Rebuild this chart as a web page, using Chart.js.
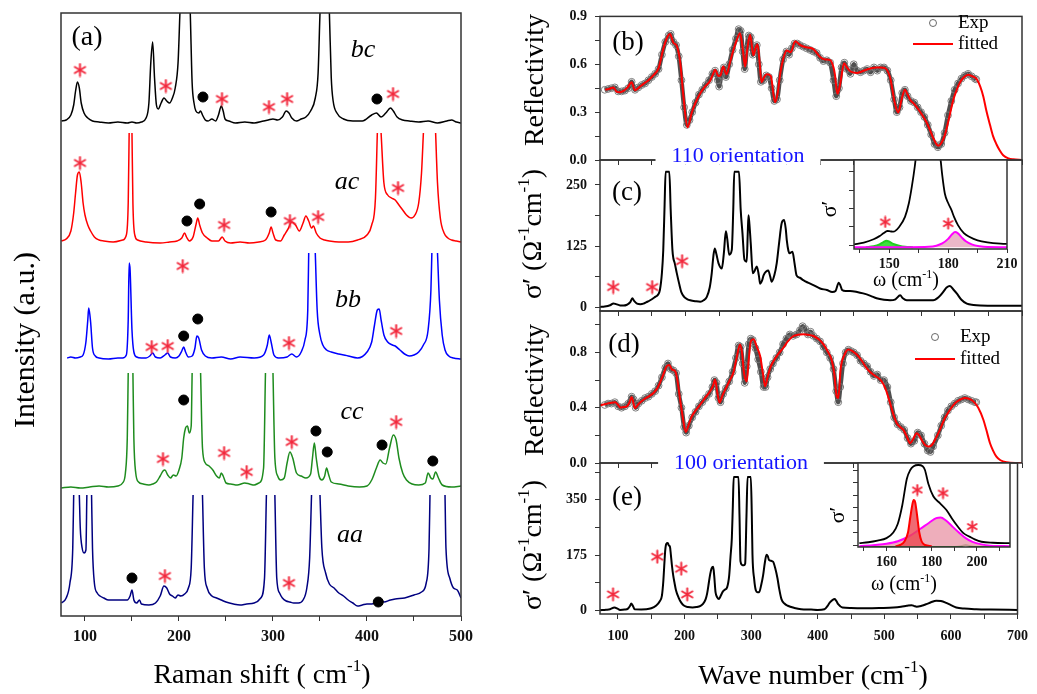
<!DOCTYPE html>
<html>
<head>
<meta charset="utf-8">
<script src="https://cdn.jsdelivr.net/npm/chart.js@4.4.1/dist/chart.umd.min.js"></script>
<style>
  body { margin: 0; background: #fff; }
  #wrap { position: relative; width: 1037px; height: 694px; }
  #wrap canvas { position: absolute; left: 0; top: 0; }
</style>
</head>
<body>
<div id="wrap">
  <canvas id="cA" width="1037" height="694"></canvas>
  <canvas id="cB" width="1037" height="694"></canvas>
  <canvas id="cC" width="1037" height="694"></canvas>
  <canvas id="cD" width="1037" height="694"></canvas>
  <canvas id="cE" width="1037" height="694"></canvas>
  <canvas id="cCin" width="1037" height="694"></canvas>
  <canvas id="cEin" width="1037" height="694"></canvas>
</div>
<script>
// ---------- (a) Raman spectra: [shift cm-1, intensity above the trace's own baseline]; null = clipped peak top
const ramanBC = [[75,2],[80,3],[85,8],[88,18],[90,32],[92,41],[94,35],[96,20],[99,10],[103,5],[108,2],[115,1],[125,0],[135,1],[145,0],[150,1],[155,0],[160,1],[165,5],[168,20],[170,60],[172,81],[174,45],[176,18],[178,14],[181,20],[184,25],[187,22],[190,20],[193,25],[196,35],[199,60],[201,110],[203,160],[210,160],[212,110],[214,40],[216,20],[218,12],[221,10],[223,12],[225,8],[228,3],[231,2],[235,4],[239,2],[242,8],[245,17],[247,12],[249,4],[253,2],[260,0],[270,1],[280,0],[290,2],[295,3],[300,4],[305,3],[310,6],[314,12],[317,10],[320,5],[325,2],[330,4],[335,6],[340,12],[345,25],[348,50],[350,110],[352,160],[358,160],[360,110],[362,45],[364,22],[368,10],[375,4],[385,2],[395,2],[405,8],[410,10],[415,6],[420,10],[425,15],[428,12],[432,6],[438,3],[445,2],[455,1],[465,2],[475,0],[485,2],[490,3],[495,1],[500,0]];
const ramanAC = [[75,2],[80,4],[85,12],[88,30],[90,50],[92,68],[94,71],[96,60],[98,40],[100,28],[103,18],[106,12],[110,6],[115,3],[120,2],[130,1],[140,3],[144,8],[146,40],[147,110],[148.5,null],[150,110],[151,40],[153,8],[156,3],[165,1],[180,0],[190,1],[198,2],[203,5],[206,10],[208,6],[211,2],[215,6],[218,18],[220,25],[222,18],[225,10],[230,5],[235,2],[242,2],[246,6],[249,2],[255,0],[265,1],[275,0],[285,1],[292,3],[296,10],[298,16],[300,10],[303,3],[308,2],[312,8],[316,14],[320,21],[324,18],[328,12],[332,20],[335,27],[338,22],[341,15],[343,17],[346,10],[350,5],[355,3],[360,2],[370,1],[380,1],[390,3],[400,8],[405,18],[409,45],[411,110],[413,null],[415,110],[418,60],[422,48],[426,45],[430,43],[434,38],[438,33],[442,28],[447,25],[451,28],[455,40],[458,70],[460,110],[466,null],[473,110],[475,60],[478,25],[482,10],[486,5],[490,3],[495,2],[500,1]];
const ramanBB = [[81,2],[85,3],[90,2],[95,3],[98,5],[101,18],[103,40],[104,52],[106,38],[108,12],[111,4],[115,2],[125,1],[135,2],[140,2],[144,5],[146,40],[147,97],[148,90],[150,30],[152,8],[155,3],[160,2],[165,2],[169,4],[172,7],[175,3],[180,2],[185,5],[188,7],[191,3],[196,2],[200,4],[203,9],[205,13],[207,8],[210,3],[214,4],[217,12],[219,24],[221,22],[224,10],[228,4],[235,2],[245,3],[255,1],[265,3],[280,2],[290,5],[294,15],[296,25],[298,18],[301,5],[306,2],[315,3],[320,6],[325,3],[330,8],[334,20],[337,50],[338,107],[341,null],[345,107],[347,50],[350,25],[353,15],[357,10],[362,8],[370,6],[380,4],[390,2],[400,8],[405,18],[408,35],[411,50],[413,51],[415,40],[418,25],[422,18],[427,15],[430,14],[435,10],[440,6],[445,4],[450,5],[455,8],[460,15],[465,30],[468,70],[469,107],[472,null],[475,107],[477,60],[480,25],[483,10],[487,4],[492,2],[500,1]];
const ramanCC = [[75,0],[85,1],[95,0],[105,1],[115,2],[125,1],[135,2],[140,5],[143,15],[145,50],[146,115],[148.5,null],[151,115],[152,50],[154,15],[157,6],[162,4],[168,3],[172,4],[176,6],[180,12],[183,17],[185,18],[188,13],[191,10],[194,13],[197,12],[200,18],[203,30],[205,50],[207,60],[209,62],[211,55],[213,62],[214,115],[218,null],[223,115],[225,40],[228,25],[232,22],[236,18],[240,12],[243,10],[245,15],[247,12],[250,5],[255,4],[262,3],[270,5],[275,4],[280,3],[285,5],[290,20],[292,115],[296,null],[300,115],[302,30],[305,12],[308,8],[312,10],[315,25],[318,36],[321,30],[325,15],[330,12],[335,10],[340,14],[342,30],[344,45],[346,30],[349,12],[352,8],[355,12],[357,20],[359,14],[362,6],[370,4],[380,2],[392,1],[400,2],[405,8],[410,20],[414,28],[417,25],[420,24],[424,40],[428,53],[431,48],[434,30],[438,15],[442,8],[448,4],[455,3],[462,5],[465,15],[468,10],[470,9],[473,16],[476,10],[480,3],[490,1],[500,2]];
const ramanAA = [[75,5],[80,10],[84,25],[87,60],[88,113],[91,null],[94,113],[95,80],[97,60],[99,55],[101,58],[102,113],[104,null],[107,113],[108,60],[110,25],[113,15],[116,12],[120,10],[125,8],[130,8],[140,8],[145,8],[148,12],[150,18],[152,8],[155,5],[158,8],[160,4],[168,3],[175,5],[180,12],[184,22],[187,20],[190,14],[193,12],[196,10],[199,13],[202,12],[206,14],[210,20],[213,40],[215,113],[220,null],[225,113],[227,40],[230,20],[235,12],[240,10],[245,8],[250,6],[258,4],[265,3],[272,4],[280,5],[287,10],[291,30],[293,113],[297,null],[302,113],[304,30],[307,15],[310,10],[314,7],[318,6],[322,5],[327,5],[332,8],[336,20],[339,50],[341,113],[345,null],[350,113],[352,60],[356,35],[360,24],[365,20],[370,15],[375,12],[380,8],[385,5],[390,2],[395,3],[400,4],[405,4],[410,6],[415,8],[418,6],[425,8],[430,9],[440,10],[450,13],[458,16],[463,25],[466,60],[467,113],[475,null],[483,113],[484,60],[488,30],[492,20],[496,18],[500,10]];
const ramanNames = ['bc', 'ac', 'bb', 'cc', 'aa'];
const ramanTraces = [ramanBC, ramanAC, ramanBB, ramanCC, ramanAA];
const ramanBaselines = [493, 373, 256, 128, 8];
const ramanColors = ['#000000', '#ff0000', '#0000ff', '#1e8c1e', '#000080'];
const ramanStars = [[94.7,546],[186,530],[245.7,517],[295.7,509],[315,517],[427.7,522],[94.7,453],[248,391],[318,395],[348,399],[433,428],[204,350],[171,269],[188,270],[317,273],[431,285],[183,157],[248,163],[272,144],[320,174],[431,194],[185,40],[317,33]];
const ramanDots = [[225.5,519],[410.6,517],[208.5,395],[222,412],[298,404],[205,280],[220,297],[205,216],[345.7,185],[357.7,164],[416,171],[470,155],[150,38],[412,14]];
const ramanTicks = [100,150,200,250,300,350,400,450,500];
const ramanTickLabels = [100,200,300,400,500];

// ---------- (b) reflectivity, 110 orientation
const reflBExp = [[80,.44],[85,.445],[90,.45],[95,.455],[100,.43],[105,.43],[110,.435],[115,.45],[120,.49],[125,.44],[130,.455],[135,.47],[140,.48],[145,.5],[150,.52],[155,.54],[160,.57],[165,.66],[170,.74],[175,.78],[178,.79],[182,.74],[186,.72],[190,.65],[194,.5],[198,.33],[202,.22],[206,.25],[210,.3],[215,.36],[220,.41],[225,.44],[230,.47],[235,.5],[240,.54],[244,.56],[248,.5],[250,.46],[253,.53],[257,.58],[260,.52],[265,.6],[270,.69],[275,.76],[279,.82],[282,.81],[285,.68],[288,.57],[291,.7],[294,.78],[297,.77],[300,.66],[303,.7],[306,.72],[309,.6],[312,.49],[316,.5],[320,.53],[324,.52],[328,.45],[332,.37],[336,.38],[340,.5],[345,.63],[350,.68],[354,.66],[358,.7],[362,.73],[366,.73],[370,.72],[375,.71],[380,.7],[385,.69],[390,.68],[395,.67],[400,.64],[405,.62],[410,.625],[415,.61],[420,.5],[424,.4],[428,.45],[432,.58],[436,.61],[440,.57],[445,.54],[450,.6],[455,.56],[460,.55],[465,.56],[470,.57],[475,.55],[480,.58],[485,.56],[490,.58],[495,.58],[500,.56],[505,.5],[510,.38],[514,.3],[518,.33],[522,.42],[526,.44],[530,.4],[535,.37],[540,.36],[545,.33],[550,.3],[555,.27],[560,.22],[565,.16],[570,.1],[575,.08],[580,.1],[585,.17],[590,.28],[595,.37],[600,.44],[605,.48],[610,.51],[615,.53],[620,.54],[625,.525],[630,.51],[632,.505]];
const reflBFit = [[80.7,.441],[86,.445],[93,.455],[98,.427],[103,.425],[108,.433],[114,.455],[120,.487],[125,.437],[131,.455],[137.6,.477],[145,.5],[152.5,.532],[160,.576],[167,.695],[172,.76],[177,.79],[182,.735],[187,.715],[192,.616],[197,.397],[203,.205],[209.4,.298],[215,.36],[221.8,.417],[229,.46],[236.6,.497],[241,.54],[244,.566],[249,.527],[252,.53],[256,.586],[261,.537],[266,.61],[271,.686],[276,.75],[281,.795],[285,.7],[288.6,.585],[292,.7],[296,.785],[301,.656],[304,.7],[307,.725],[310,.62],[313,.487],[317,.52],[320.8,.537],[326.7,.527],[333,.362],[337,.42],[340.6,.537],[345,.63],[350.5,.686],[356.4,.676],[363,.745],[369,.725],[375,.711],[382,.705],[390,.695],[400,.646],[408,.63],[414.9,.626],[420,.58],[422,.537],[425.7,.415],[428,.44],[430.7,.497],[435.6,.606],[440,.58],[444.6,.556],[454.5,.546],[462,.555],[469,.566],[476,.575],[484,.58],[490,.58],[496.5,.576],[504,.517],[511,.358],[516,.298],[521,.378],[526,.441],[530,.41],[533.7,.378],[540,.35],[546,.318],[552,.28],[558,.238],[563,.19],[568,.139],[572,.105],[575.7,.089],[580,.105],[585.6,.159],[592,.27],[598,.378],[603,.44],[608,.487],[614,.52],[620,.535],[626,.525],[632.7,.507],[638,.46],[642.6,.397],[647,.31],[652.5,.219],[657,.15],[662,.099],[667,.06],[672,.03],[680,.01],[687,.004],[700,0]];

// ---------- (c) optical conductivity, 110 orientation (flat tops = cut off in the original)
const sigmaC = [[73,0.3],[80,1],[88,3.7],[93,7.5],[97,6],[103,3.4],[108,3],[113,4.8],[118,10],[121,18],[124,12],[128,7],[133,6],[137.6,7],[142,10],[147.5,14],[155,21],[159,25],[162,35],[165,70],[167,117],[169,210],[170.5,277],[176,277],[178,200],[180.6,117],[182,100],[184,90],[187,70],[190.6,48],[194,30],[198,21],[203,16],[207,14],[215,12],[222,11],[227,14],[231.7,21],[236,40],[239,69],[241.5,105],[243.5,120],[246,108],[249,90],[254,79],[257,110],[260,155],[262,140],[265,107],[268.8,117],[271,200],[272.5,277],[279.5,277],[282,200],[284.7,151],[287.6,97],[291,93],[292.5,150],[293.6,188],[295,170],[297,130],[300,69],[303,75],[306,83],[309,65],[311,48],[314,55],[316,65],[320,73],[323,75],[326,62],[328,52],[332,65],[335.6,90],[339,130],[343,172],[346.5,178],[349,160],[350.5,137],[353,115],[355,110],[357,112],[359,113],[362,90],[365,65],[370,60],[375,55],[382,50],[390,45],[400,38],[410,35],[418,31],[423,33],[427.7,50],[430,45],[432.7,35],[438,33],[444.6,33],[455,31],[464,28],[475,23],[484,18],[495,15],[504,14],[512,16],[519,24],[523,18],[528.7,14],[540,14],[548.5,14],[560,14],[568,14],[576,20],[583,31],[588,40],[593,43],[598,36],[603,28],[610,15],[618,7],[628,4.5],[638,3.4],[662,2.7],[700,2.7]];
const starsC = [[92.6,41],[150.5,41],[195,94]];

// ---------- (d) reflectivity, 100 orientation
const reflDExp = [[80,.42],[85,.43],[90,.43],[95,.44],[100,.41],[105,.40],[110,.41],[115,.43],[120,.48],[123,.46],[126,.40],[130,.43],[135,.45],[140,.47],[145,.48],[150,.5],[155,.52],[160,.56],[165,.62],[170,.69],[174,.72],[178,.68],[182,.67],[186,.65],[190,.5],[194,.4],[198,.26],[201,.22],[205,.27],[210,.33],[215,.37],[220,.41],[225,.44],[230,.47],[235,.5],[240,.55],[243,.6],[246,.58],[249,.47],[252,.44],[256,.5],[260,.54],[265,.59],[270,.66],[275,.76],[279,.85],[282,.84],[285,.72],[288,.58],[291,.7],[294,.86],[297,.9],[300,.89],[304,.83],[308,.75],[312,.66],[316,.55],[319,.55],[322,.62],[326,.68],[330,.72],[335,.76],[340,.8],[345,.86],[350,.9],[355,.93],[360,.92],[365,.93],[370,.96],[374,.99],[378,.97],[382,.93],[386,.95],[390,.92],[395,.9],[400,.88],[405,.84],[410,.8],[415,.76],[420,.68],[424,.52],[427,.44],[430,.55],[434,.72],[438,.8],[442,.82],[446,.81],[450,.8],[455,.78],[460,.74],[465,.72],[470,.7],[475,.66],[480,.63],[485,.64],[490,.6],[495,.6],[500,.55],[505,.44],[510,.33],[515,.28],[520,.26],[525,.24],[530,.18],[535,.14],[540,.16],[545,.22],[550,.2],[555,.14],[560,.09],[564,.08],[568,.12],[575,.2],[580,.27],[585,.33],[590,.38],[595,.41],[600,.43],[605,.45],[610,.46],[615,.47],[620,.46],[625,.45],[630,.44],[632,.44]];
const reflDFit = [[73,.417],[80,.425],[88,.434],[95.5,.44],[100,.42],[103,.402],[108,.405],[113,.41],[117,.44],[120,.478],[125,.397],[131,.43],[137.6,.458],[145,.48],[152.5,.507],[158,.54],[162,.58],[167,.64],[172,.70],[176,.71],[180,.676],[184.7,.664],[188,.6],[192,.458],[196,.33],[200.5,.225],[205,.28],[209.4,.337],[215,.38],[221.8,.422],[229,.47],[236.6,.519],[241,.56],[244,.604],[247,.52],[250.5,.438],[255,.49],[259,.531],[265,.59],[271,.652],[276,.76],[281,.858],[284,.8],[287,.65],[291,.59],[294,.75],[297,.88],[301,.895],[306,.84],[311,.773],[315,.65],[318.3,.555],[322,.62],[326,.69],[330.7,.737],[338,.79],[345.5,.834],[352,.88],[360.4,.919],[367,.928],[375,.931],[382,.928],[390,.919],[398,.895],[405,.858],[411,.81],[417,.749],[421,.65],[424.7,.482],[427,.47],[430.7,.688],[436,.78],[442,.822],[448,.81],[454.5,.785],[462,.74],[469,.688],[474,.66],[479,.64],[485,.62],[491.6,.59],[497,.54],[504,.434],[509,.35],[514,.288],[519,.26],[523.8,.24],[529,.19],[533.7,.143],[538,.17],[543.6,.216],[547,.2],[551,.167],[556,.13],[561,.119],[566,.13],[572,.18],[578,.24],[585,.32],[593,.385],[600,.43],[608,.458],[615,.47],[621,.465],[627.7,.446],[635,.4],[642.6,.313],[647,.24],[652.5,.143],[657,.09],[662,.046],[668,.02],[677,.005],[690,0],[700,0]];

// ---------- (e) optical conductivity, 100 orientation
const sigmaE = [[73,1],[82,2.5],[88,4],[94.6,9.6],[100,5],[103,2],[110,3],[115,6],[118,14],[120,22],[123,12],[125,4],[135,3.5],[142.6,4],[150,7],[157,15],[163,30],[166,47],[168,90],[170,160],[171,191],[172.5,210],[174.8,213],[176.5,205],[178,202],[179.5,175],[181,143],[183,110],[184.7,90],[187,65],[191,41],[195,25],[199.5,15],[205,11],[212,9.6],[218,11],[224,15],[228,22],[231.7,36],[234,55],[236.6,90],[238.5,115],[240.6,133],[243,138],[244.5,110],[246.5,58],[249,42],[251.5,36],[254,45],[257,58],[260,65],[264,74],[267,110],[269,170],[271,229],[272.5,330],[273.8,422],[281,422],[282.5,300],[284,155],[287,143],[289,143],[291,148],[293,300],[294.6,422],[299.5,422],[301,300],[302,176],[304.5,100],[307,64],[309.5,58],[312,58],[315,80],[318,112],[320.5,150],[323,176],[325,172],[326.7,160],[330,157],[333,154],[336,135],[339.6,101],[342,70],[345.5,36],[350,22],[355,15],[365,8],[375,4],[390,3],[400,2],[410,4],[414.9,15],[418,25],[422,33],[425.7,36],[428,30],[430.7,20],[437,9.6],[450,8],[474,7],[495,8],[514,9.6],[525,12],[533.7,15],[541,17],[545,14],[548.5,12],[556,15],[563,20],[570,26],[578,31],[585,30],[593,24],[600,17],[608,9.6],[620,6],[638,4],[660,3],[700,2]];
const starsE = [[92.6,51],[159,170],[195,132],[204,51]];

const waveTicks = [100,150,200,250,300,350,400,450,500,550,600,650,700];
const waveTickLabels = [100,200,300,400,500,600,700];
const reflBTicks = [0,0.15,0.3,0.45,0.6,0.75,0.9];
const reflBTickLabels = [0,0.3,0.6,0.9];
const sigmaCTicks = [0,62.5,125,187.5,250];
const sigmaCTickLabels = [0,125,250];
const reflDTicks = [0,0.2,0.4,0.6,0.8,1.0];
const reflDTickLabels = [0,0.4,0.8];
const sigmaETicks = [0,87.5,175,262.5,350,437.5];
const sigmaETickLabels = [0,175,350];

// ---------- insets: total sigma' and the weak modes (arb. units)
const insetCTotal = [[132,.05],[137,.15],[142,.33],[145,.5],[147,.65],[149,.78],[150.5,.76],[152,.74],[155,1.0],[158,1.55],[160,2.3],[161.5,3.2],[163,4.3],[164,5.2],[170,9],[175.5,5.3],[177,3.8],[178.3,2.82],[180,2.3],[181.7,1.91],[183,1.55],[185,1.1],[188,.66],[191,.45],[195,.27],[200,.16],[206.7,.09],[212,.07]];
const insetCGreen = [[138,-.1],[142,-.05],[145,.05],[147,.18],[148.5,.25],[150,.2],[152,.08],[155,-.02],[158,-.08],[162,-.1]];
const insetCMagenta = [[132,-.1],[160,-.1],[170,-.08],[174,-.02],[177,.1],[180,.35],[182,.6],[183.5,.72],[185,.65],[187,.42],[189,.22],[192,.05],[196,-.05],[200,-.09],[212,-.1]];
const insetCStars = [[147.9,1.27],[180,1.18]];
const insetCTicksX = [135,150,165,180,195,210];
const insetCTickLabelsX = [150,180,210];
const insetCTicksY = [0,1,2,3,4];

const insetETotal = [[148,.15],[152,.22],[156,.35],[160,.55],[163,1.0],[165,1.7],[167,3.2],[169,5.3],[170.5,6.0],[172,6.3],[174,6.4],[176,6.3],[177,6.0],[178.5,4.9],[180.7,3.9],[183.6,3.35],[186.5,2.8],[189,2.1],[191,1.6],[194,.95],[196.7,.67],[199,.45],[202,.26],[207,.18],[215,.15]];
const insetERed = [[164,-.1],[166,0],[168,.3],[169.5,1.0],[170.5,2.2],[171.5,3.3],[172,3.6],[172.7,3.4],[173.5,2.4],[174.5,1.0],[175.5,.3],[177,0],[180,-.1]];
const insetEMagenta = [[148,-.1],[155,0],[160,.1],[165,.3],[170,.7],[175,1.3],[179,1.8],[182,2.15],[184,2.2],[186,2.0],[189,1.5],[192,1.0],[195,.55],[198,.25],[202,.05],[206,-.05],[215,-.1]];
const insetEGreen = [[148,-.15],[190,-.15],[193,-.1],[195,0],[197,-.1],[200,-.15],[215,-.15]];
const insetEStars = [[173.6,4.4],[185,4.15],[197.9,1.47]];
const insetETicksX = [150,160,170,180,190,200,210];
const insetETickLabelsX = [160,180,200];
const insetETicksY = [0,1,2,3,4,5,6];

// ---------- helpers
const SERIF = "'Liberation Serif', 'DejaVu Serif', serif";
Chart.defaults.font.family = SERIF;
Chart.defaults.color = '#111';
Chart.defaults.animation = false;
Chart.defaults.events = [];
Chart.defaults.plugins.legend.display = false;
Chart.defaults.plugins.tooltip.enabled = false;

const W = 1037, H = 694;
const pts = arr => arr.map(([x, y]) => ({ x, y }));

function asterisk(color, size) {
    const c = document.createElement('canvas');
    c.width = c.height = size;
    const g = c.getContext('2d');
    g.strokeStyle = color;
    g.lineWidth = 2;
    g.lineCap = 'round';
    const r = size / 2 - 1.5;
    [90, 30, 150].forEach(a => {
        const t = a * Math.PI / 180;
        g.beginPath();
        g.moveTo(size / 2 - r * Math.cos(t), size / 2 - r * Math.sin(t));
        g.lineTo(size / 2 + r * Math.cos(t), size / 2 + r * Math.sin(t));
        g.stroke();
    });
    return c;
}
const STAR = asterisk('#f2283c', 15);
const STAR_SMALL = asterisk('#f2283c', 13);

// plot area in page pixels -> layout padding, given fixed axis sizes
function pad(l, t, r, b, yw, xh) {
    return { left: l - yw, top: t, right: W - r, bottom: H - b - xh };
}

function axis(opts) {
    return {
        type: 'linear',
        position: opts.position,
        min: opts.min,
        max: opts.max,
        display: opts.display !== false,
        border: { display: false },
        grid: { drawOnChartArea: false, drawTicks: true, tickLength: opts.tickLength || 5, color: '#333', lineWidth: 1 },
        afterBuildTicks: s => { s.ticks = opts.ticks.map(v => ({ value: v })); },
        afterFit: s => { if (opts.position === 'left') s.width = opts.size; else s.height = opts.size; },
        ticks: {
            display: !!opts.labels,
            autoSkip: false,
            maxRotation: 0,
            padding: opts.padding || 4,
            font: { size: opts.fontSize || 14, weight: 'bold', family: SERIF },
            color: '#111',
            callback: v => (opts.labels && opts.labels.includes(v)) ? (opts.fmt ? opts.fmt(v) : String(v)) : ''
        }
    };
}

function drawRich(ctx, it) {
    const parts = typeof it.t === 'string' ? [{ t: it.t }] : it.t;
    const size = it.size;
    const base = (it.italic ? 'italic ' : '') + (it.bold ? 'bold ' : '');
    ctx.save();
    ctx.translate(it.x, it.y);
    if (it.rot) ctx.rotate(it.rot);
    ctx.textBaseline = 'middle';
    ctx.textAlign = 'left';
    const widths = parts.map(p => {
        ctx.font = base + (p.sup ? Math.round(size * 0.6) : size) + 'px ' + SERIF;
        return ctx.measureText(p.t).width;
    });
    const total = widths.reduce((a, b) => a + b, 0);
    let cx = it.align === 'left' ? 0 : -total / 2;
    if (it.bg) {
        ctx.fillStyle = it.bg;
        ctx.fillRect(cx - 16, -size * 0.4, total + 32, size * 0.8);
    }
    ctx.fillStyle = it.color || '#000';
    parts.forEach((p, i) => {
        ctx.font = base + (p.sup ? Math.round(size * 0.6) : size) + 'px ' + SERIF;
        ctx.fillText(p.t, cx, p.sup ? -size * 0.33 : 0);
        cx += widths[i];
    });
    ctx.restore();
}

// frame round the plot area + free text / legend drawn on top
function decor(items, extra) {
    return {
        id: 'decor',
        beforeDatasetsDraw(chart) {
            if (extra && extra.whiteBg) {
                const a = chart.chartArea;
                chart.ctx.save();
                chart.ctx.fillStyle = '#fff';
                chart.ctx.fillRect(a.left, a.top, a.right - a.left, a.bottom - a.top);
                chart.ctx.restore();
            }
        },
        afterDraw(chart) {
            const ctx = chart.ctx, a = chart.chartArea;
            ctx.save();
            ctx.strokeStyle = '#333';
            ctx.lineWidth = 1.5;
            ctx.strokeRect(a.left, a.top, a.right - a.left, a.bottom - a.top);
            ctx.restore();
            (extra && extra.legend ? [extra.legend] : []).forEach(lg => {
                ctx.save();
                ctx.strokeStyle = 'rgba(90,90,90,0.9)';
                ctx.lineWidth = 1;
                ctx.beginPath();
                ctx.arc(lg.cx, lg.cy, 3.5, 0, Math.PI * 2);
                ctx.stroke();
                ctx.strokeStyle = '#ff0000';
                ctx.lineWidth = 2;
                ctx.beginPath();
                ctx.moveTo(lg.lx0, lg.ly);
                ctx.lineTo(lg.lx1, lg.ly);
                ctx.stroke();
                ctx.restore();
                drawRich(ctx, { t: 'Exp', x: lg.tx, y: lg.cy, size: 19, align: 'left' });
                drawRich(ctx, { t: 'fitted', x: lg.tx, y: lg.ly, size: 19, align: 'left' });
            });
            items.forEach(it => drawRich(ctx, it));
        }
    };
}

const ROT = -Math.PI / 2;
const CM1 = [{ t: 'cm' }, { t: '-1', sup: true }];

// ---------- (a) Raman
const ramanSets = [
    { data: pts(ramanStars), showLine: false, pointStyle: STAR, pointRadius: 7 },
    { data: pts(ramanDots), showLine: false, pointStyle: 'circle', pointRadius: 5, pointBackgroundColor: '#000', pointBorderColor: '#000' }
];
ramanTraces.forEach((tr, i) => {
    ramanSets.push({
        data: tr.map(([x, y]) => ({ x, y: y === null ? null : y + ramanBaselines[i] })),
        borderColor: ramanColors[i],
        borderWidth: 1.5,
        pointRadius: 0,
        cubicInterpolationMode: 'monotone',
        spanGaps: false
    });
});

new Chart(document.getElementById('cA'), {
    type: 'line',
    data: { datasets: ramanSets },
    options: {
        responsive: false,
        layout: { padding: pad(61, 13, 461, 616, 0, 30) },
        scales: {
            x: axis({ position: 'bottom', min: 74.5, max: 500, ticks: ramanTicks, labels: ramanTickLabels, size: 30, padding: 6, fontSize: 16 }),
            y: { type: 'linear', display: false, min: 0, max: 603 }
        }
    },
    plugins: [decor([
        { t: '(a)', x: 87, y: 38, size: 28 },
        { t: 'bc', x: 363, y: 50, size: 26, italic: true },
        { t: 'ac', x: 347, y: 182, size: 26, italic: true },
        { t: 'bb', x: 348, y: 300, size: 26, italic: true },
        { t: 'cc', x: 352, y: 412, size: 26, italic: true },
        { t: 'aa', x: 350, y: 535, size: 26, italic: true },
        { t: 'Intensity (a.u.)', x: 26, y: 340, size: 30, rot: ROT },
        { t: [{ t: 'Raman shift ( ' }, ...CM1, { t: ')' }], x: 262, y: 676, size: 28 }
    ])]
});

// ---------- right column
// measured points: dense band of grey open circles joined by a dark trace
const expStyle = { showLine: true, borderColor: 'rgba(60,60,60,0.9)', borderWidth: 4.5, cubicInterpolationMode: 'monotone', pointStyle: 'circle', pointRadius: 3.4, pointBorderWidth: 1, pointBorderColor: 'rgba(120,120,120,0.95)', pointBackgroundColor: 'rgba(0,0,0,0)' };
const fitStyle = { borderColor: '#ff0000', borderWidth: 2, pointRadius: 0, cubicInterpolationMode: 'monotone' };
const sigStyle = { borderColor: '#000', borderWidth: 2, pointRadius: 0, cubicInterpolationMode: 'monotone' };

function rightPanel(id, top, bottom, yMin, yMax, yTicks, yLabels, yFmt, datasets, items, extra, showX) {
    new Chart(document.getElementById(id), {
        type: 'line',
        data: { datasets },
        options: {
            responsive: false,
            layout: { padding: pad(600, top, 1022, bottom, 40, showX ? 40 : 0) },
            scales: {
                x: axis({ position: 'bottom', min: 73, max: 700, ticks: waveTicks, labels: showX ? waveTickLabels : null, size: showX ? 40 : 0, padding: 9 }),
                y: axis({ position: 'left', min: yMin, max: yMax, ticks: yTicks, labels: yLabels, fmt: yFmt, size: 40, padding: 8 })
            }
        },
        plugins: [decor(items, extra)]
    });
}

const oneDec = v => v.toFixed(1);

rightPanel('cB', 9, 160, 0, 0.9, reflBTicks, reflBTickLabels, oneDec,
    [{ data: pts(reflBFit), ...fitStyle }, { data: pts(reflBExp), ...expStyle }],
    [
        { t: '(b)', x: 628, y: 43, size: 27 },
        { t: 'Reflectivity', x: 536, y: 80, size: 28, rot: ROT }
    ],
    { legend: { cx: 933, cy: 23, lx0: 913, lx1: 953, ly: 44, tx: 958 } }, false);

rightPanel('cC', 160, 311, -8, 301, sigmaCTicks, sigmaCTickLabels, null,
    [{ data: pts(starsC), showLine: false, pointStyle: STAR, pointRadius: 7 }, { data: pts(sigmaC), ...sigStyle }],
    [
        { t: '(c)', x: 627, y: 193, size: 27 },
        { t: [{ t: 'σ′ (Ω' }, { t: '-1', sup: true }, ...CM1, { t: ')' }], x: 534, y: 234, size: 28, rot: ROT },
        { t: '110 orientation', x: 738, y: 156, size: 22, color: '#1414ff', bg: '#fff' }
    ], null, false);

rightPanel('cD', 311, 463, 0, 1.1, reflDTicks, reflDTickLabels, oneDec,
    [{ data: pts(reflDFit), ...fitStyle }, { data: pts(reflDExp), ...expStyle }],
    [
        { t: '(d)', x: 624, y: 345, size: 27 },
        { t: 'Reflectivity', x: 536, y: 390, size: 28, rot: ROT }
    ],
    { legend: { cx: 935, cy: 337, lx0: 915, lx1: 955, ly: 359, tx: 960 } }, false);

rightPanel('cE', 463, 614, -11, 466, sigmaETicks, sigmaETickLabels, null,
    [{ data: pts(starsE), showLine: false, pointStyle: STAR, pointRadius: 7 }, { data: pts(sigmaE), ...sigStyle }],
    [
        { t: '(e)', x: 627, y: 498, size: 27 },
        { t: [{ t: 'σ′ (Ω' }, { t: '-1', sup: true }, ...CM1, { t: ')' }], x: 534, y: 545, size: 28, rot: ROT },
        { t: '100 orientation', x: 741, y: 463, size: 22, color: '#1414ff', bg: '#fff' },
        { t: [{ t: 'Wave number (' }, ...CM1, { t: ')' }], x: 813, y: 677, size: 28 }
    ], null, true);

// ---------- insets
function inset(id, box, xMin, xMax, yMin, yMax, xTicks, xLabels, yTicks, datasets, items) {
    new Chart(document.getElementById(id), {
        type: 'line',
        data: { datasets },
        options: {
            responsive: false,
            layout: { padding: pad(box[0], box[1], box[2], box[3], 5, 22) },
            scales: {
                x: axis({ position: 'bottom', min: xMin, max: xMax, ticks: xTicks, labels: xLabels, size: 22, padding: 3, tickLength: 4 }),
                y: axis({ position: 'left', min: yMin, max: yMax, ticks: yTicks, labels: null, size: 5, tickLength: 5 })
            }
        },
        plugins: [decor(items, { whiteBg: true })]
    });
}

const fillLine = (color, fillColor, base) => ({
    borderColor: color, borderWidth: 2, pointRadius: 0, cubicInterpolationMode: 'monotone',
    fill: { value: base }, backgroundColor: fillColor
});

inset('cCin', [854, 160, 1007, 249], 132, 210, -0.2, 4.64, insetCTicksX, insetCTickLabelsX, insetCTicksY, [
    { data: pts(insetCStars), showLine: false, pointStyle: STAR_SMALL, pointRadius: 6 },
    { data: pts(insetCTotal), borderColor: '#000', borderWidth: 1.8, pointRadius: 0, cubicInterpolationMode: 'monotone' },
    { data: pts(insetCMagenta), ...fillLine('#ff00ff', 'rgba(232,170,190,0.85)', -0.1) },
    { data: pts(insetCGreen), ...fillLine('#22cc22', 'rgba(40,220,40,0.9)', -0.1) }
], [
    { t: 'σ′', x: 830, y: 209, size: 22, rot: ROT },
    { t: [{ t: 'ω (' }, ...CM1, { t: ')' }], x: 906, y: 281, size: 20 }
]);

inset('cEin', [858, 463, 1010, 547], 147.4, 214.6, -0.16, 6.56, insetETicksX, insetETickLabelsX, insetETicksY, [
    { data: pts(insetEStars), showLine: false, pointStyle: STAR_SMALL, pointRadius: 6 },
    { data: pts(insetETotal), borderColor: '#000', borderWidth: 1.8, pointRadius: 0, cubicInterpolationMode: 'monotone' },
    { data: pts(insetERed), ...fillLine('#ff0000', 'rgba(235,70,80,0.8)', -0.1) },
    { data: pts(insetEMagenta), ...fillLine('#ff00ff', 'rgba(235,160,175,0.85)', -0.1) },
    { data: pts(insetEGreen), borderColor: '#007a00', borderWidth: 2, pointRadius: 0, cubicInterpolationMode: 'monotone' }
], [
    { t: 'σ′', x: 838, y: 515, size: 22, rot: ROT },
    { t: [{ t: 'ω (' }, ...CM1, { t: ')' }], x: 904, y: 585, size: 20 }
]);
</script>
</body>
</html>
